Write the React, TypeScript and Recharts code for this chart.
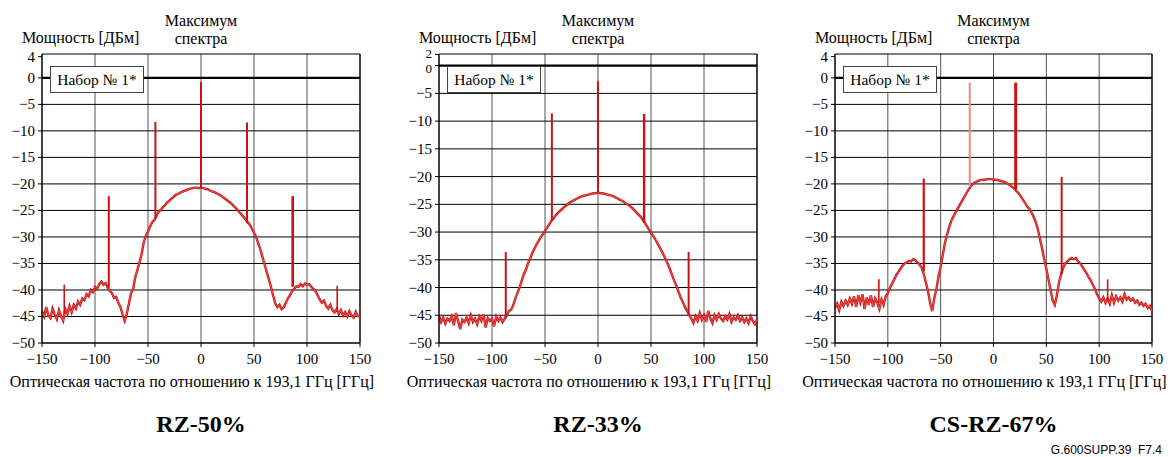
import React from 'react';
import { LineChart, Line, XAxis, YAxis, CartesianGrid, ReferenceLine } from 'recharts';

// frequency grid of the traces, GHz offset from 193.1 THz
const FREQ_START = -150;
const FREQ_STEP = 2;

const xTicks = [-150, -100, -50, 0, 50, 100, 150];
const gridLevels = [-50, -45, -40, -35, -30, -25, -20, -15, -10, -5];
const yTicksTop4 = [4, 0, -5, -10, -15, -20, -25, -30, -35, -40, -45, -50];
const yTicksTop2 = [2, 0, -5, -10, -15, -20, -25, -30, -35, -40, -45, -50];

// RZ-50% power, dBm (-150 … 150 GHz, step 2)
const rz50Power = [
  -44.0, -45.0, -43.2, -44.8, -45.3, -43.5, -44.6, -45.5, -43.8, -44.9,
  -45.8, -43.6, -44.5, -43.0, -44.2, -42.8, -43.5, -42.2, -42.8, -41.6,
  -41.9, -40.8, -41.2, -40.0, -40.4, -39.4, -39.8, -38.9, -38.4, -39.0,
  -38.7, -39.6, -40.2, -40.6, -41.5, -41.3, -42.4, -43.2, -44.6, -45.8,
  -44.5, -42.6, -40.6, -39.8, -37.6, -36.2, -34.8, -33.2, -31.0, -29.8,
  -29.0, -28.0, -27.2, -26.8, -26.0, -25.3, -24.9, -24.4, -24.0, -23.5,
  -23.2, -22.8, -22.5, -22.1, -21.9, -21.7, -21.5, -21.3, -21.2, -21.0,
  -20.9, -20.8, -20.7, -20.7, -20.8, -20.7, -20.8, -20.9, -21.0, -21.2,
  -21.4, -21.5, -21.7, -21.9, -22.1, -22.4, -22.7, -23.0, -23.3, -23.6,
  -24.0, -24.4, -24.8, -25.3, -25.7, -26.2, -26.7, -27.2, -27.7, -28.4,
  -29.2, -30.0, -31.2, -32.4, -33.8, -35.2, -36.6, -38.0, -39.4, -41.0,
  -42.5, -43.2, -42.8, -43.6, -43.3, -42.4, -41.6, -41.0, -40.2, -39.8,
  -39.3, -39.4, -38.9, -39.3, -38.8, -39.0, -38.9, -39.4, -39.8, -40.2,
  -41.0, -41.8, -42.4, -42.0, -43.0, -43.5, -42.8, -43.8, -44.2, -43.6,
  -44.6, -43.8, -44.8, -44.2, -45.0, -44.0, -44.8, -45.2, -44.1, -44.9,
  -45.0,
];

// RZ-33% power, dBm
const rz33Power = [
  -45.0, -46.2, -45.4, -46.5, -45.6, -46.0, -45.2, -46.8, -44.6, -46.0,
  -47.5, -45.8, -46.2, -45.4, -46.4, -45.0, -46.2, -45.6, -46.6, -45.2,
  -46.0, -44.8, -47.2, -45.5, -46.0, -45.6, -47.0, -45.2, -46.0, -45.4,
  -46.2, -45.6, -45.0, -44.2, -44.0, -43.2, -42.0, -41.0, -40.0, -38.8,
  -37.6, -36.8, -35.6, -34.8, -33.8, -33.0, -32.2, -31.6, -30.9, -30.4,
  -29.8, -29.2, -28.6, -28.0, -27.6, -27.0, -26.6, -26.2, -25.9, -25.5,
  -25.2, -24.9, -24.6, -24.4, -24.2, -24.0, -23.8, -23.6, -23.5, -23.4,
  -23.3, -23.2, -23.1, -23.0, -23.0, -22.9, -23.0, -23.0, -23.1, -23.2,
  -23.3, -23.4, -23.5, -23.7, -23.9, -24.1, -24.3, -24.5, -24.8, -25.0,
  -25.3, -25.6, -26.0, -26.4, -26.8, -27.2, -27.7, -28.3, -28.9, -29.5,
  -30.1, -30.7, -31.3, -32.0, -32.7, -33.4, -34.2, -35.0, -35.8, -36.8,
  -37.8, -38.8, -39.7, -40.8, -41.8, -42.6, -43.5, -44.2, -45.0, -45.6,
  -46.4, -45.2, -46.0, -44.6, -45.8, -45.0, -46.2, -44.2, -45.6, -46.4,
  -45.0, -45.8, -44.8, -45.6, -46.0, -45.2, -45.8, -44.8, -46.2, -45.4,
  -45.8, -45.0, -46.0, -45.4, -46.2, -45.6, -46.4, -45.2, -46.0, -46.6,
  -45.8,
];

// CS-RZ-67% power, dBm
const csrz67Power = [
  -43.4, -42.6, -43.8, -42.2, -43.0, -42.0, -42.8, -41.6, -42.6, -41.2,
  -43.2, -41.0, -42.4, -40.8, -43.6, -41.4, -42.8, -41.0, -43.2, -41.6,
  -42.4, -43.6, -41.8, -42.8, -41.2, -40.6, -39.6, -38.8, -38.0, -37.2,
  -36.6, -36.0, -35.4, -35.0, -34.8, -34.5, -34.6, -34.2, -34.4, -34.8,
  -35.2, -35.8, -37.0, -38.6, -40.2, -42.4, -44.0, -41.5, -39.8, -37.4,
  -35.6, -33.4, -31.2, -29.6, -28.2, -27.0, -26.2, -25.4, -24.7, -24.0,
  -23.3, -22.6, -21.9, -21.2, -20.6, -20.1, -19.8, -19.6, -19.4, -19.3,
  -19.2, -19.2, -19.1, -19.1, -19.1, -19.2, -19.2, -19.3, -19.4, -19.5,
  -19.6, -19.8, -20.0, -20.3, -20.6, -21.0, -21.4, -21.8, -22.4, -23.0,
  -23.6, -24.3, -24.7, -25.4, -26.2, -27.2, -28.6, -30.4, -32.2, -34.2,
  -36.0, -38.0, -40.0, -42.0, -42.8, -41.0, -38.6, -37.0, -35.8, -35.0,
  -34.6, -34.2, -34.0, -34.2, -34.0, -34.6, -35.0, -35.6, -36.2, -36.8,
  -37.6, -38.2, -39.0, -39.8, -40.8, -41.6, -42.2, -41.4, -42.4, -41.6,
  -42.6, -41.0, -42.4, -41.2, -42.0, -41.4, -42.2, -40.8, -41.8, -41.4,
  -42.0, -41.6, -42.4, -42.0, -42.8, -42.4, -43.0, -42.6, -43.4, -43.0,
  -44.0,
];

type Spike = { f: number; top: number; base: number; w: number; light?: boolean };

const rz50Spikes: Spike[] = [
  { f: -129, top: -39.0, base: -44.5, w: 1.6 },
  { f: -87, top: -22.3, base: -39.6, w: 2 },
  { f: -43, top: -8.3, base: -26.6, w: 2 },
  { f: 0, top: -0.8, base: -20.7, w: 2 },
  { f: 43.4, top: -8.4, base: -27.4, w: 2 },
  { f: 86.5, top: -22.3, base: -39.4, w: 2.6 },
  { f: 128.5, top: -39.2, base: -44.0, w: 1.6 },
];

const rz33Spikes: Spike[] = [
  { f: -87, top: -33.6, base: -45.5, w: 2 },
  { f: -43.5, top: -8.6, base: -28.0, w: 2 },
  { f: 0, top: -2.8, base: -22.9, w: 2 },
  { f: 43.5, top: -8.7, base: -28.3, w: 2.4 },
  { f: 85.5, top: -33.6, base: -44.8, w: 2 },
];

const csrz67Spikes: Spike[] = [
  { f: -108.5, top: -38.0, base: -42.5, w: 1.6 },
  { f: -66, top: -19.0, base: -36.5, w: 2.2 },
  { f: -22.5, top: -0.9, base: -20.5, w: 2, light: true },
  { f: 21, top: -0.9, base: -21.0, w: 3 },
  { f: 64.5, top: -18.7, base: -37.0, w: 2 },
  { f: 108, top: -38.0, base: -42.0, w: 1.6 },
];

const RED = '#cc1111';
const SERIF = 'Liberation Serif, Times New Roman, serif';

const toRows = (power: number[]) =>
  power.map((p, i) => ({ f: FREQ_START + i * FREQ_STEP, p }));

const fmt = (v: number) => (v < 0 ? '\u2212' + Math.abs(v) : String(v));

// y tick: the top label (2) and 0 crowd each other on the middle panel
const YTick = (props: any) => {
  const { x, y, payload, crowded } = props;
  const v = payload.value;
  let dy = 5;
  let size = 15;
  if (crowded && v === 2) { dy = 3; size = 13; }
  if (crowded && v === 0) { dy = 7; size = 13; }
  return (
    <text x={x} y={y + dy} textAnchor="end" fill="#000" fontSize={size} fontFamily={SERIF}>
      {fmt(v)}
    </text>
  );
};

type PanelProps = {
  left: number;
  width: number;
  axisWidth: number;
  rightMargin: number;
  yTop: number;
  yTicks: number[];
  power: number[];
  spikes: Spike[];
  title: string;
  crowded?: boolean;
};

const Panel = ({ left, width, axisWidth, rightMargin, yTop, yTicks, power, spikes, title, crowded }: PanelProps) => {
  const plotLeft = left + axisWidth;
  const plotRight = left + width - rightMargin;
  const center = (plotLeft + plotRight) / 2;
  const tickStyle = { fill: '#000', fontSize: 15, fontFamily: SERIF };
  return (
    <>
      <div style={{ position: 'absolute', left, top: 0 }}>
        <LineChart
          width={width}
          height={400}
          data={toRows(power)}
          margin={{ top: 54, right: rightMargin, bottom: 0, left: 0 }}
        >
          <CartesianGrid horizontal={false} stroke="#555" strokeWidth={1} />
          {gridLevels.map((g) => (
            <ReferenceLine key={g} y={g} stroke="#000" strokeWidth={1} />
          ))}
          <ReferenceLine y={0} stroke="#000" strokeWidth={2.2} />
          <ReferenceLine y={yTop} stroke="#000" strokeWidth={1.2} />
          <ReferenceLine x={150} stroke="#000" strokeWidth={1.2} />
          <XAxis
            dataKey="f"
            type="number"
            domain={[-150, 150]}
            ticks={xTicks}
            tickFormatter={fmt}
            tick={tickStyle}
            tickSize={4}
            tickMargin={6}
            height={57}
            stroke="#000"
            axisLine={{ stroke: '#000', strokeWidth: 1.2 }}
            interval={0}
          />
          <YAxis
            type="number"
            domain={[-50, yTop]}
            ticks={yTicks}
            tick={<YTick crowded={crowded} />}
            tickSize={4}
            tickMargin={3}
            width={axisWidth}
            stroke="#000"
            axisLine={{ stroke: '#000', strokeWidth: 1.2 }}
            interval={0}
            allowDataOverflow
          />
          <Line dataKey="p" stroke={RED} strokeWidth={2.4} dot={false} isAnimationActive={false} />
          <Line dataKey="p" stroke="#f08080" strokeWidth={0.6} dot={false} isAnimationActive={false} />
          {spikes.map((s) => (
            <ReferenceLine
              key={s.f}
              segment={[{ x: s.f, y: s.base }, { x: s.f, y: s.top }]}
              stroke={s.light ? '#e88a8a' : RED}
              strokeWidth={s.w}
            />
          ))}
        </LineChart>
      </div>
      <div style={{ position: 'absolute', left: plotLeft - 20, top: 29, fontFamily: SERIF, fontSize: 16, whiteSpace: 'nowrap' }}>
        Мощность [ДБм]
      </div>
      <div style={{ position: 'absolute', left: center - 60, width: 120, top: 12, fontFamily: SERIF, fontSize: 16, lineHeight: '18px', textAlign: 'center' }}>
        Максимум
        <br />
        спектра
      </div>
      <div
        style={{
          position: 'absolute',
          left: plotLeft + 8,
          top: 66,
          width: 92,
          height: 25,
          border: '1.5px solid #444',
          background: '#fff',
          fontFamily: SERIF,
          fontSize: 15.5,
          lineHeight: '25px',
          textAlign: 'center',
          whiteSpace: 'nowrap',
        }}
      >
        Набор № 1*
      </div>
      <div style={{ position: 'absolute', left: center - 9 - 200, width: 400, top: 373, fontFamily: SERIF, fontSize: 16, textAlign: 'center', whiteSpace: 'nowrap' }}>
        Оптическая частота по отношению к 193,1 ГГц [ГГц]
      </div>
      <div style={{ position: 'absolute', left: center - 100, width: 200, top: 411, fontFamily: SERIF, fontSize: 24, fontWeight: 'bold', textAlign: 'center' }}>
        {title}
      </div>
    </>
  );
};

export default function App() {
  return (
    <div style={{ position: 'absolute', left: 0, top: 0, width: 1172, height: 457, background: '#fff', overflow: 'hidden' }}>
      <Panel left={0} width={390} axisWidth={42} rightMargin={30} yTop={4.5} yTicks={yTicksTop4} power={rz50Power} spikes={rz50Spikes} title="RZ-50%" />
      <Panel left={390} width={390} axisWidth={49} rightMargin={23} yTop={2.1} yTicks={yTicksTop2} power={rz33Power} spikes={rz33Spikes} title="RZ-33%" crowded />
      <Panel left={780} width={392} axisWidth={55} rightMargin={20} yTop={4.5} yTicks={yTicksTop4} power={csrz67Power} spikes={csrz67Spikes} title="CS-RZ-67%" />
      <div style={{ position: 'absolute', right: 10, top: 443, fontFamily: 'Liberation Sans, Arial, sans-serif', fontSize: 12, whiteSpace: 'nowrap' }}>
        G.600SUPP.39&nbsp;&nbsp;F7.4
      </div>
    </div>
  );
}
